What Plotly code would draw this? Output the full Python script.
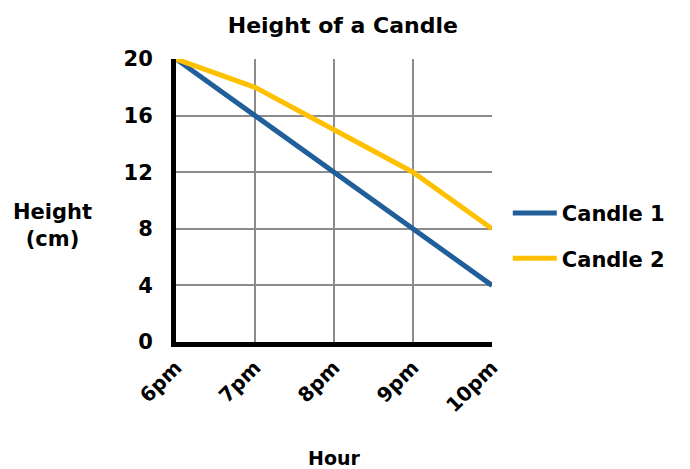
import plotly.graph_objects as go

hours = ["6pm", "7pm", "8pm", "9pm", "10pm"]
candle1 = [20, 16, 12, 8, 4]
candle2 = [20, 18, 15, 12, 8]
y_ticks = [0, 4, 8, 12, 16, 20]

FONT = "DejaVu Sans"
BOLD = "bold"

fig = go.Figure()
fig.add_trace(go.Scatter(x=hours, y=candle1, mode="lines", name="Candle 1",
                         legendgroup="c1",
                         line=dict(color="#215F9A", width=5)))
fig.add_trace(go.Scatter(x=hours, y=candle2, mode="lines", name="Candle 2",
                         legendgroup="c2",
                         line=dict(color="#FFC000", width=5)))

# page body has an 8px margin, so the figure is drawn at (8, 8)
fig.update_layout(
    width=682, height=461,
    margin=dict(l=168, r=198, t=51, b=127),
    paper_bgcolor="white", plot_bgcolor="white",
    font=dict(family=FONT, color="black", size=20, weight=BOLD),
    title=dict(text="Height of a Candle", x=0.528, xref="paper",
               y=0.963, yref="container", yanchor="middle", xanchor="center",
               font=dict(size=22, family=FONT, color="black", weight=BOLD)),
    legend=dict(x=1.05, y=0.375, xanchor="left", yanchor="middle",
                font=dict(size=21, family=FONT, color="black", weight=BOLD),
                tracegroupgap=15, itemwidth=44),
    showlegend=True,
)
fig.update_xaxes(type="category", range=[0, 4], showgrid=True, gridcolor="#8C8C8C",
                 gridwidth=1.5, showline=True, linecolor="black", linewidth=5,
                 tickangle=-45, ticks="", ticklabelstandoff=1, automargin=False,
                 tickfont=dict(size=20, family=FONT, weight=BOLD))
fig.update_yaxes(range=[0, 20], tickvals=y_ticks, showgrid=True, gridcolor="#8C8C8C",
                 gridwidth=1.5, showline=True, linecolor="black", linewidth=5,
                 zeroline=False, ticks="", ticklabelstandoff=14, automargin=False,
                 tickfont=dict(size=21, family=FONT, weight=BOLD))

fig.add_annotation(text="Height<br>(cm)", xref="paper", yref="paper",
                   x=-0.39, y=0.41, xanchor="center", yanchor="middle",
                   showarrow=False, align="center",
                   font=dict(size=21, family=FONT, color="black", weight=BOLD))
fig.add_annotation(text="Hour", xref="paper", yref="paper",
                   x=0.5, y=-0.41, xanchor="center", yanchor="middle", showarrow=False,
                   font=dict(size=19, family=FONT, color="black", weight=BOLD))

fig.write_html("out.html")
